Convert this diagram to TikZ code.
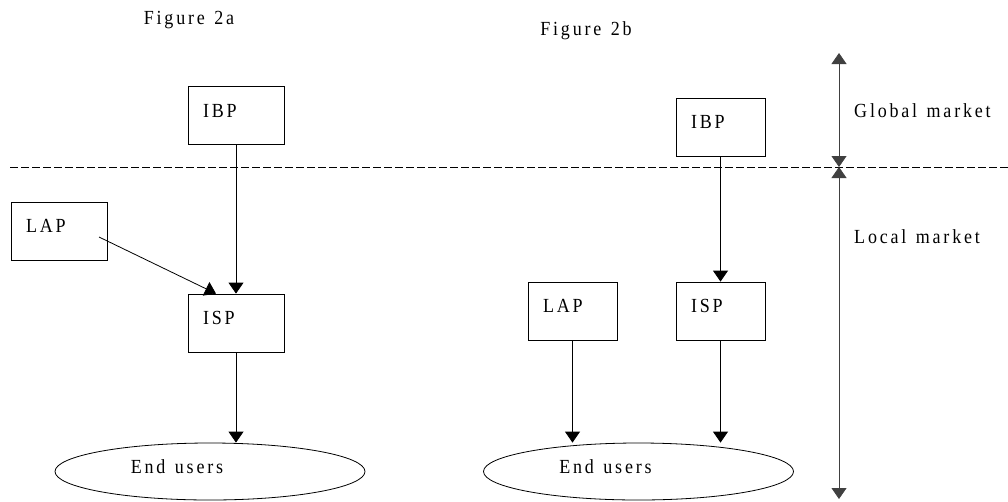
\documentclass[tikz,border=0pt]{standalone}
\usepackage{fontspec}
\setmainfont{Liberation Serif}[FakeStretch=0.9,LetterSpace=14,WordSpace=1.3]
\usetikzlibrary{arrows.meta,shapes,calc}

\begin{document}
\begin{tikzpicture}[x=1pt, y=-1pt,
    font=\fontsize{20}{22}\selectfont,
    >={Triangle[width=15pt,length=11pt]},
    box/.style={draw, line width=0.8pt, rectangle, inner xsep=15pt, inner ysep=0pt,
        minimum height=58pt, align=left, text height=12pt, text depth=9pt},
    users/.style={draw, ellipse, line width=0.8pt, inner sep=0pt,
        minimum width=310pt, minimum height=57pt, text height=12pt, text depth=9pt},
    caption/.style={inner sep=0pt},
    link/.style={line width=0.8pt}]
    \useasboundingbox (0,0) rectangle (1008,501);

    % Market boundary
    \draw[line width=0.8pt, dash pattern=on 7.5pt off 3.5pt] (10,167) -- (1008,167);

    % Figure 2a
    \node[caption, anchor=base] (figa) at (189,24) {Figure 2a};
    \node[box, text width=66pt] (ibpa) at (236,115.5) {IBP};
    \node[box, text width=66pt] (lapa) at (59,231) {LAP};
    \node[box, text width=66pt] (ispa) at (236,323) {ISP};
    \node[users] (eua) at (210,471.5) {End users\hspace{66pt}\mbox{}};
    \coordinate (lapout) at (99,237);
    \draw[link, ->] (ibpa) -- (ispa);
    \draw[link, ->] (lapout) -- ($(ispa.north)+(-20,0)$);
    \draw[link, ->] (ispa.south) -- (ispa.south |- eua.north);

    % Figure 2b
    \node[caption, anchor=base] (figb) at (586,35) {Figure 2b};
    \node[box, text width=59pt] (ibpb) at (720.5,127) {IBP};
    \node[box, text width=59pt] (lapb) at (572.5,311) {LAP};
    \node[box, text width=59pt] (ispb) at (720.5,311) {ISP};
    \node[users] (eub) at (638.5,471.5) {End users\hspace{66pt}\mbox{}};
    \draw[link, ->] (ibpb) -- (ispb);
    \draw[link, ->] (lapb.south) -- (lapb.south |- eub.north);
    \draw[link, ->] (ispb.south) -- (ispb.south |- eub.north);

    % Market levels
    \coordinate (gtop) at (839,53);
    \coordinate (gmid) at (839,167);
    \coordinate (lbot) at (839,499);
    \draw[line width=0.8pt, black!75, <->] (gtop) -- (gmid);
    \draw[line width=0.8pt, black!75, <->] (gmid) -- (lbot);
    \node[caption, anchor=base west] (glob) at (854,117) {Global market};
    \node[caption, anchor=base west] (loc) at (854,243) {Local market};
\end{tikzpicture}
\end{document}
